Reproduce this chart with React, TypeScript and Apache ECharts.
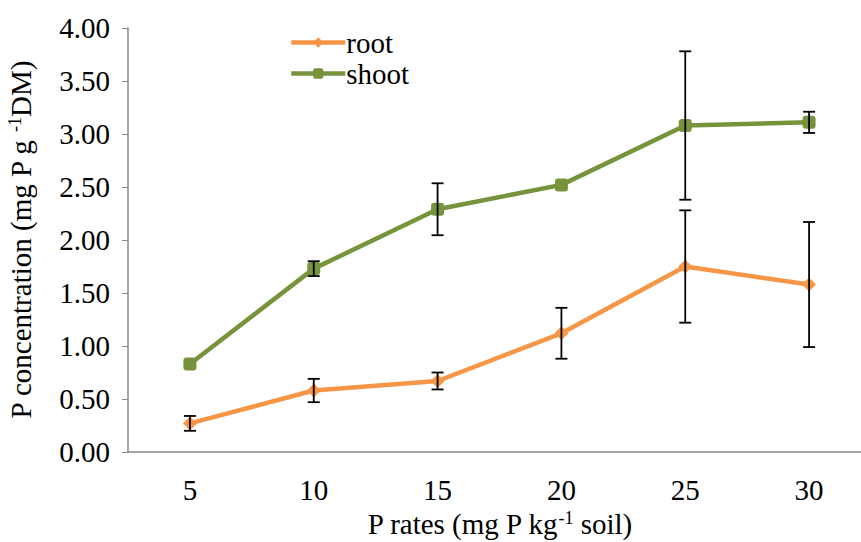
import React, { useEffect, useRef } from "react";
import * as echarts from "echarts";

const categories = ["5", "10", "15", "20", "25", "30"];
const rootValues = [0.27, 0.58, 0.67, 1.12, 1.75, 1.58];
const rootErrors = [0.07, 0.11, 0.08, 0.24, 0.53, 0.59];
const shootValues = [0.83, 1.73, 2.29, 2.52, 3.08, 3.11];
const shootErrors = [0.0, 0.07, 0.245, 0.0, 0.70, 0.10];

const FONT = "serif";
const FS = 29;

function errData(vals: number[], errs: number[]) {
  return vals
    .map((v, i) => [i, v - errs[i], v + errs[i]])
    .filter((d, i) => errs[i] > 0);
}

function renderErr(params: any, api: any) {
  const x = api.value(0);
  const lo = api.coord([x, api.value(1)]);
  const hi = api.coord([x, api.value(2)]);
  const w = 6;
  const style = { stroke: "#000", lineWidth: 1.8 };
  return {
    type: "group",
    children: [
      { type: "line", shape: { x1: lo[0], y1: lo[1], x2: hi[0], y2: hi[1] }, style },
      { type: "line", shape: { x1: lo[0] - w, y1: lo[1], x2: lo[0] + w, y2: lo[1] }, style },
      { type: "line", shape: { x1: hi[0] - w, y1: hi[1], x2: hi[0] + w, y2: hi[1] }, style },
    ],
  };
}

export default function App() {
  const ref = useRef<HTMLDivElement>(null);
  useEffect(() => {
    const chart = echarts.init(ref.current!, null, { renderer: "svg" });
    chart.setOption({
      animation: false,
      textStyle: { fontFamily: FONT },
      grid: {
        left: 128,
        top: 28,
        bottom: 90,
        right: -10,
        containLabel: false,
        outerBoundsMode: "none",
      },
      legend: {
        left: 284,
        top: 23,
        orient: "vertical",
        itemWidth: 54,
        itemHeight: 13,
        itemGap: 2,
        lineStyle: { width: 4.5 },
        textStyle: { fontFamily: FONT, fontSize: FS, color: "#000", padding: [0, 0, 0, -4] },
        data: ["root", "shoot"],
      },
      xAxis: {
        type: "category",
        data: categories,
        boundaryGap: true,
        axisLine: { lineStyle: { color: "#898989", width: 1.5 } },
        axisTick: { show: false },
        axisLabel: { fontFamily: FONT, fontSize: FS, color: "#000", margin: 23 },
        name: "{a|P rates (mg P kg}{s|-1}{a| soil)}",
        nameLocation: "middle",
        nameGap: 56,
        nameTextStyle: {
          fontFamily: FONT,
          rich: {
            a: { fontFamily: FONT, fontSize: FS, color: "#000" },
            s: { fontFamily: FONT, fontSize: 18, color: "#000", padding: [0, 0, 12, 0] },
          },
        },
      },
      yAxis: {
        type: "value",
        min: 0,
        max: 4,
        interval: 0.5,
        splitLine: { show: false },
        axisLine: { show: true, lineStyle: { color: "#898989", width: 1.5 } },
        axisTick: { show: true, length: 6, lineStyle: { color: "#898989" } },
        axisLabel: {
          fontFamily: FONT,
          fontSize: FS,
          color: "#000",
          margin: 18,
          formatter: (v: number) => v.toFixed(2),
        },
        name: "{a|P concentration (mg P g }{s|-1}{a|DM)}",
        nameLocation: "middle",
        nameGap: 92,
        nameRotate: 90,
        nameTextStyle: {
          fontFamily: FONT,
          rich: {
            a: { fontFamily: FONT, fontSize: FS, color: "#000" },
            s: { fontFamily: FONT, fontSize: 18, color: "#000", padding: [0, 0, 12, 0] },
          },
        },
      },
      series: [
        {
          name: "root",
          type: "line",
          data: rootValues,
          symbol: "diamond",
          symbolSize: 14,
          lineStyle: { color: "#F79646", width: 4.5 },
          itemStyle: { color: "#F79646" },
          z: 3,
        },
        {
          name: "shoot",
          type: "line",
          data: shootValues,
          symbol: "roundRect",
          symbolSize: 13,
          lineStyle: { color: "#77933C", width: 4.5 },
          itemStyle: { color: "#77933C" },
          z: 3,
        },
        {
          type: "custom",
          renderItem: renderErr,
          data: errData(rootValues, rootErrors),
          encode: { x: 0, y: [1, 2] },
          z: 4,
        },
        {
          type: "custom",
          renderItem: renderErr,
          data: errData(shootValues, shootErrors),
          encode: { x: 0, y: [1, 2] },
          z: 4,
        },
      ],
    });
    return () => chart.dispose();
  }, []);
  return (
    <div
      ref={ref}
      style={{ position: "absolute", left: 0, top: 0, width: 861, height: 542 }}
    />
  );
}
